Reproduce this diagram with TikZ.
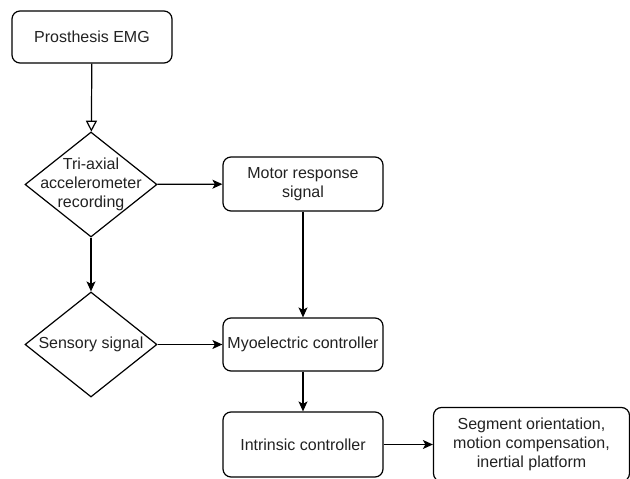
\documentclass[tikz,border=0pt]{standalone}
\usepackage{fontspec}
\setmainfont{Liberation Sans}
\usetikzlibrary{shapes.geometric,arrows.meta}
\definecolor{txt}{HTML}{222222}
\begin{document}
\begin{tikzpicture}[x=1pt,y=-1pt,
  lbl/.style={align=center, text=txt, font=\fontsize{16}{19}\selectfont},
  box/.style={draw, rounded corners=8pt, line width=1.2pt, inner sep=0pt, lbl},
  dia/.style={draw, diamond, line width=1.2pt, inner sep=0pt, minimum width=132pt, minimum height=105pt},
  arr/.style={line width=1.2pt, -{Stealth[length=10pt,width=9pt,inset=2.5pt]}},
  openarr/.style={line width=1.2pt, -{Triangle[open,length=11pt,width=11pt,fill=white]}}
]
\useasboundingbox (0,0) rectangle (630,479);
\clip (0,0) rectangle (630,479);
\fill[white] (0,0) rectangle (630,479);

\node[box, minimum width=160pt, minimum height=52pt] (p) at (92,37) {Prosthesis EMG};
\node[dia, label={[lbl]center:Tri-axial\\accelerometer\\recording}] (d1) at (91,184.5) {};
\node[box, minimum width=160pt, minimum height=54pt] (m) at (303,184) {Motor response\\signal};
\node[dia, label={[lbl]center:Sensory signal}] (d2) at (91,344.5) {};
\node[box, minimum width=160pt, minimum height=53pt] (my) at (303,344.5) {Myoelectric controller};
\node[box, minimum width=160pt, minimum height=65pt] (in) at (303,444.5) {Intrinsic controller};
\node[box, minimum width=196pt, minimum height=74pt] (seg) at (531.5,444.5) {Segment orientation,\\motion compensation,\\inertial platform};

\draw[openarr] (p) -- (d1);
\draw[arr] (d1) -- (m);
\draw[arr] (d1) -- (d2);
\draw[arr] (m) -- (my);
\draw[arr] (d2) -- (my);
\draw[arr] (my) -- (in);
\draw[arr] (in) -- (seg);
\end{tikzpicture}
\end{document}
